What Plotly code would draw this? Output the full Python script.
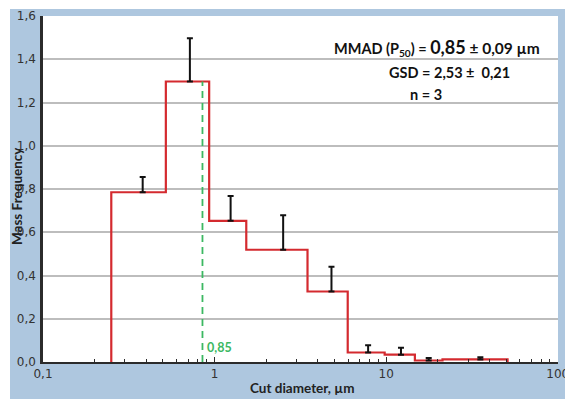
import plotly.graph_objects as go

# ---- data ----
bin_edges = [0.25, 0.52, 0.93, 1.53, 3.48, 5.97, 9.8, 14.7, 21.3, 51.0]
mass_freq = [0.785, 1.297, 0.653, 0.519, 0.326, 0.044, 0.034, 0.007, 0.012]
err_x = [0.381, 0.718, 1.24, 2.51, 4.8, 7.85, 12.2, 17.7, 35.4]
err_up = [0.07, 0.20, 0.115, 0.16, 0.115, 0.033, 0.032, 0.012, 0.010]
mmad = 0.85
y_ticks = [0.0, 0.2, 0.4, 0.6, 0.8, 1.0, 1.2, 1.4, 1.6]
x_ticks = [0.1, 1, 10, 100]
x_tick_labels = ["0,1", "1", "10", "100"]
x_minor_ticks = [m * d for d in (0.1, 1, 10) for m in range(2, 10)]

W, H = 565, 399
L, R, T, B = 43, 558, 16, 362
BLUE = "#aec7df"
RED = "#d42a2f"
GREEN = "#3cb862"
AXIS = "#2b2b2b"
XR = [-1, 2.0015]


def px(x):
    return (x - L) / (R - L)


def py(y):
    return (B - y) / (B - T)


fig = go.Figure()

# step histogram outline
step_x = [bin_edges[0]] + bin_edges
step_y = [0] + mass_freq + [0]
fig.add_trace(go.Scatter(x=step_x, y=step_y, mode="lines", line_shape="hv",
                         line=dict(color=RED, width=2.2), hoverinfo="skip"))

# MMAD dashed line
fig.add_trace(go.Scatter(x=[mmad, mmad], y=[0, mass_freq[1]], mode="lines",
                         line=dict(color=GREEN, width=1.8, dash="7px,5px"),
                         hoverinfo="skip"))

# one-sided error bars
fig.add_trace(go.Scatter(x=err_x, y=mass_freq, mode="markers",
                         marker=dict(size=1, color="rgba(0,0,0,0)"),
                         error_y=dict(type="data", symmetric=False, array=err_up,
                                      arrayminus=[0] * len(err_up),
                                      color="#111111", thickness=2, width=3),
                         hoverinfo="skip"))

# invisible trace on the minor-tick axis
fig.add_trace(go.Scatter(x=[1], y=[0], xaxis="x2", mode="markers",
                         marker=dict(size=1, color="rgba(0,0,0,0)"), hoverinfo="skip"))

title_font = dict(family="Lato", size=13.5, color="#222222")
big_font = dict(family="Lato", size=14.5, color="#111111")
tick_font = dict(family="DejaVu Sans", size=12, color="#333333")


def ann(text, x, y, font, **kw):
    d = dict(text=text, x=px(x), y=py(y), xref="paper", yref="paper",
             xanchor="center", yanchor="middle", showarrow=False, font=font)
    d.update(kw)
    return d


fig.update_layout(
    width=W, height=H,
    autosize=False,
    margin=dict(l=L, r=W - R, t=T, b=H - B, pad=0, autoexpand=False),
    paper_bgcolor=BLUE,
    plot_bgcolor="white",
    showlegend=False,
    xaxis=dict(type="log", range=XR, tickvals=x_ticks, ticktext=x_tick_labels,
               showgrid=False, zeroline=False, automargin=False,
               showline=True, linecolor=AXIS, linewidth=2,
               ticks="inside", ticklen=5, tickwidth=1.2, tickcolor=AXIS,
               tickfont=tick_font, ticklabelstandoff=0, ticklabeloverflow="allow"),
    xaxis2=dict(type="log", range=XR, overlaying="x", side="bottom",
                tickvals=x_minor_ticks, showticklabels=False, automargin=False,
                showgrid=False, zeroline=False, showline=False,
                ticks="inside", ticklen=3, tickwidth=1.2, tickcolor=AXIS),
    yaxis=dict(range=[0, 1.6], tickvals=y_ticks,
               ticktext=[f"{v:.1f}".replace(".", ",") for v in y_ticks],
               showgrid=True, gridcolor="#bdbdbd", gridwidth=1.5, zeroline=False,
               showline=True, linecolor=AXIS, linewidth=2.5, automargin=False,
               ticks="", tickfont=tick_font, ticklabelstandoff=2,
               ticklabeloverflow="allow"),
    shapes=[
        dict(type="rect", xref="paper", yref="paper", x0=px(-5), x1=px(10),
             y0=py(H + 5), y1=py(-5), fillcolor="white", line_width=0, layer="below"),
        dict(type="rect", xref="paper", yref="paper", x0=px(-5), x1=px(W + 5),
             y0=py(9), y1=py(-5), fillcolor="white", line_width=0, layer="below"),
    ],
    annotations=[
        ann("<b>Mass Frequency</b>", 17, 196, title_font, textangle=-90),
        ann("<b>Cut diameter, µm</b>", 302, 388, title_font),
        ann("<b>MMAD (P<sub>50</sub>) = <span style='font-size:18px'>0,85</span>"
            "<span style='font-size:15.5px'> ± 0,09 µm</span></b>", 437, 48, big_font),
        ann("<b>GSD = 2,53 ±\u00a0 0,21</b>", 449, 72, big_font),
        ann("<b>n = 3</b>", 426, 94, big_font),
        ann("<b>0,85</b>", 205, 347, dict(family="Lato", size=12.5, color=GREEN),
            xanchor="left"),
    ],
)

fig.write_html(
    "out.html",
    config={"displayModeBar": False},
    post_script="document.body.style.margin='0';document.body.style.overflow='hidden';",
)
